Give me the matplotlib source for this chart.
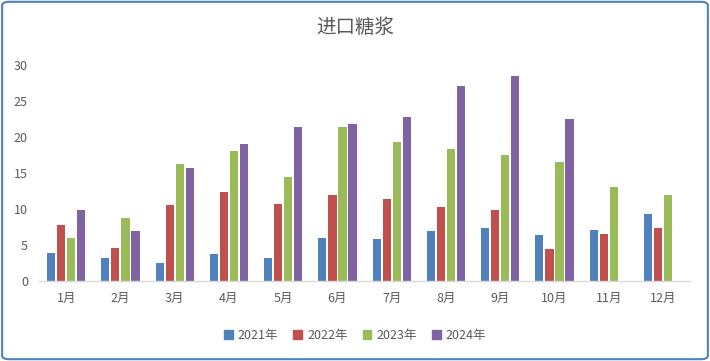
import numpy as np
import matplotlib
matplotlib.use('Agg')
import matplotlib.pyplot as plt
from matplotlib.patches import Patch, FancyBboxPatch

plt.rcParams['font.family'] = ['Noto Sans CJK SC', 'DejaVu Sans']

months = ['1月', '2月', '3月', '4月', '5月', '6月', '7月', '8月', '9月', '10月', '11月', '12月']
years = ['2021年', '2022年', '2023年', '2024年']
y2021 = [3.9, 3.2, 2.5, 3.7, 3.2, 6.0, 5.9, 6.9, 7.4, 6.4, 7.1, 9.3]
y2022 = [7.8, 4.6, 10.6, 12.4, 10.7, 11.9, 11.4, 10.3, 9.8, 4.4, 6.6, 7.3]
y2023 = [6.0, 8.7, 16.3, 18.0, 14.5, 21.4, 19.3, 18.4, 17.5, 16.6, 13.0, 12.0]
y2024 = [9.8, 7.0, 15.7, 19.1, 21.4, 21.8, 22.8, 27.1, 28.5, 22.5, np.nan, np.nan]
colors = ['#4F81BD', '#C0504D', '#9BBB59', '#8064A2']

fig = plt.figure(figsize=(7.1, 3.61), dpi=100)
ax = fig.add_axes([0.055, 0.2216, 0.917, 0.598])

x = np.arange(len(months))
step = 0.185
width = 0.15
for i, vals in enumerate([y2021, y2022, y2023, y2024]):
    ax.bar(x + (i - 1.5) * step, vals, width, color=colors[i], label=years[i])

ax.set_xlim(-0.5, len(months) - 0.5)
ax.set_ylim(0, 30)
ax.set_yticks(range(0, 31, 5))
ax.set_xticks(x)
ax.set_xticklabels(months)
ax.tick_params(axis='both', length=0, labelsize=9, colors='#595959')
ax.tick_params(axis='y', pad=8)
ax.tick_params(axis='x', pad=8)
for s in ['top', 'right', 'left']:
    ax.spines[s].set_visible(False)
ax.spines['bottom'].set_color('#D9D9D9')
ax.spines['bottom'].set_linewidth(1)

fig.text(0.5, 0.925, '进口糖浆', ha='center', va='center', fontsize=14, color='#595959')

handles = [Patch(color=c) for c in colors]
fig.legend(handles, years, loc='center', bbox_to_anchor=(0.5, 0.072), ncol=4, frameon=False,
           fontsize=9, handlelength=0.7, handleheight=0.7, handletextpad=0.4,
           columnspacing=1.2, labelcolor='#595959')

border = FancyBboxPatch((0.003, 0.005), 0.994, 0.99, boxstyle='round,pad=0,rounding_size=0.01',
                        transform=fig.transFigure, fill=False, edgecolor='#4F81BD', linewidth=1.5)
fig.patches.append(border)

fig.savefig('out.png', dpi=100)
